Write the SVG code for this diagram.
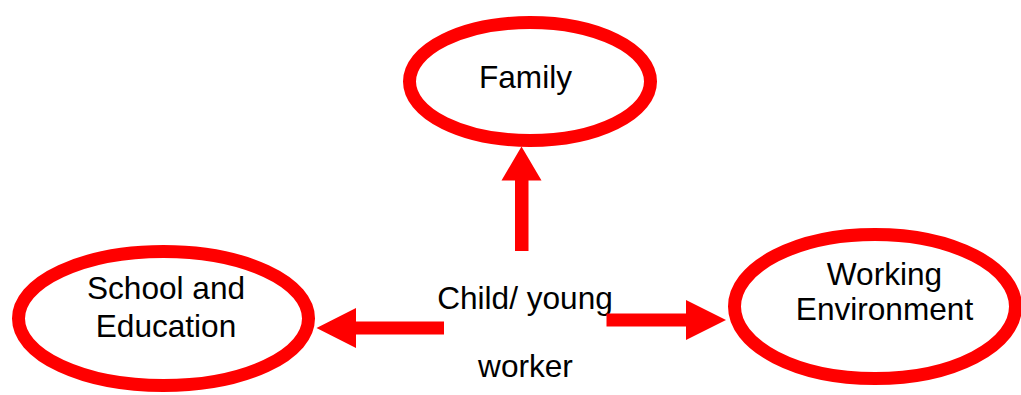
<svg xmlns="http://www.w3.org/2000/svg" width="1021" height="395" viewBox="0 0 1021 395">
<style>
.node{fill:#fff;stroke:#ff0000;stroke-width:13}
.lbl{font-family:"Liberation Sans",Arial,sans-serif;font-size:31.6px;fill:#000;text-anchor:middle}
.arr{fill:#ff0000;stroke:none}
</style>
<rect width="1021" height="395" fill="#fff"/>
<g id="family">
<ellipse class="node" cx="530" cy="81.5" rx="120.5" ry="59"/>
<text class="lbl" x="525.5" y="87.5">Family</text>
</g>
<g id="school">
<ellipse class="node" cx="163.5" cy="318.5" rx="145" ry="67"/>
<text class="lbl" x="166" y="298.5">School and</text>
<text class="lbl" x="166" y="336.5">Education</text>
</g>
<g id="working">
<ellipse class="node" cx="875" cy="306.5" rx="140.5" ry="72"/>
<text class="lbl" x="884.5" y="284.5">Working</text>
<text class="lbl" x="884.5" y="319.5">Environment</text>
</g>
<g id="child">
<text class="lbl" x="525" y="308.5">Child/ young</text>
<text class="lbl" x="525.5" y="376.5">worker</text>
</g>
<g id="connectors">
<polygon class="arr" points="515,251 528.5,251 528.5,180.5 541.5,180.5 521.5,146.5 501.5,180.5 515,180.5"/>
<polygon class="arr" points="444,321.5 444,334.5 356,334.5 356,348 316.5,328 356,308 356,321.5"/>
<polygon class="arr" points="606.5,313.5 686,313.5 686,300 726,320 686,340 686,326.5 606.5,326.5"/>
</g>
</svg>
